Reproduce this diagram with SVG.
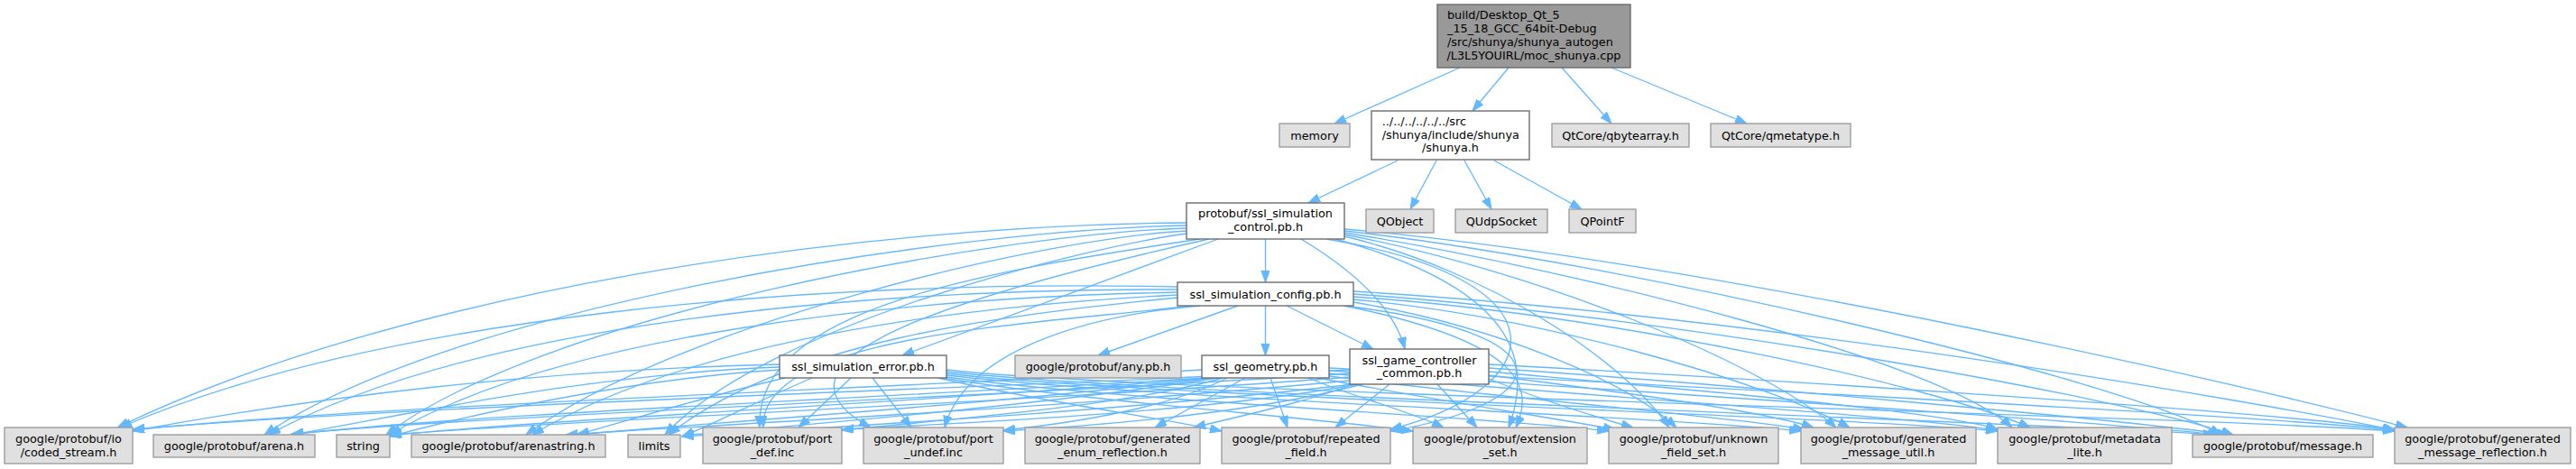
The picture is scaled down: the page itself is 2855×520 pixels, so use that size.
<svg xmlns="http://www.w3.org/2000/svg" width="2855" height="520" viewBox="0 0 2855 520">
<style>
.r{fill:#999999;stroke:#666666;stroke-width:1.33}
.n{fill:#ffffff;stroke:#666666;stroke-width:1.33}
.x{fill:#e0e0e0;stroke:#999999;stroke-width:1.33}
text{font-family:"DejaVu Sans","Liberation Sans",sans-serif;font-size:12.8px;fill:#000000}
.m{text-anchor:middle}
#edges path{fill:none;stroke:#63b8ff;stroke-width:1.33;marker-end:url(#ah)}
</style>
<defs>
<marker id="ah" markerUnits="userSpaceOnUse" markerWidth="14" markerHeight="10" refX="13" refY="4.7" orient="auto">
<path d="M0,0 L13,4.7 L0,9.4 z" fill="#63b8ff" stroke="#63b8ff" stroke-width="1"/>
</marker>
</defs>
<rect width="2855" height="520" fill="#ffffff"/>
<g id="edges">
<path d="M1618,75 L1479,137"/>
<path d="M1672,75 L1632,123"/>
<path d="M1731,75 L1786,137"/>
<path d="M1786,75 L1936,137"/>
<path d="M1549,178 L1450,225"/>
<path d="M1592,178 L1563,232"/>
<path d="M1623,178 L1653,232"/>
<path d="M1656,178 L1753,232"/>
<path d="M1402.5,265 L1402.5,313"/>
<path d="M1350,265 L1000,394"/>
<path d="M1442,265 C1500,300 1545,340 1557,387"/>
<path d="M1372,339 L1217,394"/>
<path d="M1402.5,339 L1402.5,394"/>
<path d="M1426,339 L1522,387"/>
<path d="M1315,247 C950,250 450,320 130,474"/>
<path d="M1315,250 C1050,255 500,340 293,482"/>
<path d="M1315,253 C1100,260 600,350 428,482"/>
<path d="M1315,256 C1150,265 750,360 583,482"/>
<path d="M1315,259 C1200,275 850,360 737,482"/>
<path d="M1330,265 C1100,300 835,340 842,474"/>
<path d="M1340,265 C1050,330 830,400 965,474"/>
<path d="M1470,265 C1740,310 1720,430 1541,476"/>
<path d="M1480,265 C1680,320 1700,400 1672,474"/>
<path d="M1490,262 C1650,300 1800,400 1850,474"/>
<path d="M1490,260 C1700,300 1950,400 2035,474"/>
<path d="M1490,258 C1750,300 2150,400 2230,474"/>
<path d="M1490,256 C1800,290 2350,420 2462,482"/>
<path d="M1490,254 C1900,290 2500,430 2668,474"/>
<path d="M1305,318 C900,310 420,350 133,474"/>
<path d="M1305,321 C950,320 520,360 298,482"/>
<path d="M1305,324 C1000,330 620,370 432,482"/>
<path d="M1305,327 C1050,340 760,380 590,482"/>
<path d="M1305,330 C1100,350 870,380 741,482"/>
<path d="M1320,339 C1150,360 840,370 846,474"/>
<path d="M1330,339 C1200,350 1070,390 1047,474"/>
<path d="M1490,339 C1740,370 1730,445 1541,478"/>
<path d="M1490,339 C1690,380 1700,430 1680,474"/>
<path d="M1500,335 C1650,360 1800,420 1858,474"/>
<path d="M1500,332 C1700,350 1950,420 2050,474"/>
<path d="M1500,329 C1800,350 2150,430 2250,474"/>
<path d="M1500,326 C1850,350 2350,440 2475,482"/>
<path d="M1500,323 C1950,350 2500,445 2654,477"/>
<path d="M864,404 C600,410 350,440 147,478"/>
<path d="M864,407 C650,415 450,460 323,482"/>
<path d="M864,410 C700,420 520,460 432,484"/>
<path d="M870,419 C780,440 700,465 640,482"/>
<path d="M900,419 C840,445 790,470 756,484"/>
<path d="M943,419 L885,474"/>
<path d="M967,419 L1010,474"/>
<path d="M1040,419 C1150,445 1280,462 1354,478"/>
<path d="M1045,419 C1200,445 1450,462 1566,478"/>
<path d="M1049,418 C1250,445 1650,462 1783,478"/>
<path d="M1049,416 C1250,440 1850,462 1996,478"/>
<path d="M1049,414 C1250,438 2050,462 2214,478"/>
<path d="M1049,412 C1250,436 2250,468 2455,482"/>
<path d="M1049,410 C1250,434 2450,462 2654,478"/>
<path d="M1332,410 C1000,430 400,450 147,477"/>
<path d="M1335,419 C1000,440 500,460 323,482"/>
<path d="M1340,419 C1050,445 600,465 432,483"/>
<path d="M1345,419 C1100,448 800,468 637,482"/>
<path d="M1350,419 C1150,450 900,470 756,483"/>
<path d="M1355,419 C1250,450 1050,465 933,477"/>
<path d="M1360,419 C1300,450 1200,468 1112,477"/>
<path d="M1380,419 L1280,474"/>
<path d="M1408,419 L1427,474"/>
<path d="M1450,419 C1500,440 1560,455 1600,474"/>
<path d="M1460,419 C1600,445 1700,460 1790,476"/>
<path d="M1473,417 C1650,440 1900,460 2000,476"/>
<path d="M1473,414 C1700,435 2100,460 2214,477"/>
<path d="M1473,411 C1750,430 2300,465 2460,482"/>
<path d="M1473,408 C1800,425 2500,460 2654,477"/>
<path d="M1496,410 C1100,430 450,450 147,476"/>
<path d="M1496,414 C1100,440 550,460 323,481"/>
<path d="M1496,418 C1150,445 650,465 432,482"/>
<path d="M1496,422 C1200,450 850,468 627,482"/>
<path d="M1500,426 C1250,455 950,472 756,484"/>
<path d="M1505,426 C1350,455 1100,468 933,476"/>
<path d="M1510,426 C1400,455 1250,470 1112,478"/>
<path d="M1500,426 C1450,445 1380,460 1323,474"/>
<path d="M1540,426 L1480,474"/>
<path d="M1593,426 L1637,474"/>
<path d="M1650,420 C1700,440 1760,460 1810,474"/>
<path d="M1650,416 C1800,435 1950,455 2010,474"/>
<path d="M1650,412 C1850,430 2150,455 2214,476"/>
<path d="M1650,408 C1900,425 2350,465 2470,482"/>
<path d="M1650,404 C1950,420 2500,455 2654,476"/>
</g>
<g id="root"><rect class="r" x="1593" y="5" width="214" height="70"/>
<text x="1604" y="21">build/Desktop_Qt_5</text><text x="1604" y="36">_15_18_GCC_64bit-Debug</text><text x="1604" y="51">/src/shunya/shunya_autogen</text><text class="m" x="1700" y="66">/L3L5YOUIRL/moc_shunya.cpp</text></g>
<g id="memory"><rect class="x" x="1418" y="137" width="78" height="26"/><text class="m" x="1457" y="154.5">memory</text></g>
<g id="shunya_h"><rect class="n" x="1520" y="123" width="175" height="54"/>
<text x="1531.7" y="139">../../../../../../src</text><text x="1531.7" y="153.5">/shunya/include/shunya</text><text class="m" x="1607.5" y="168">/shunya.h</text></g>
<g id="qbytearray"><rect class="x" x="1720" y="137" width="152" height="26"/><text class="m" x="1796" y="154.5">QtCore/qbytearray.h</text></g>
<g id="qmetatype"><rect class="x" x="1896" y="137" width="155" height="26"/><text class="m" x="1973.5" y="154.5">QtCore/qmetatype.h</text></g>
<g id="control"><rect class="n" x="1315" y="225" width="175" height="40"/>
<text class="m" x="1402.5" y="241">protobuf/ssl_simulation</text><text class="m" x="1402.5" y="255.5">_control.pb.h</text></g>
<g id="qobject"><rect class="x" x="1514" y="232" width="75" height="26"/><text class="m" x="1551.5" y="249.5">QObject</text></g>
<g id="qudpsocket"><rect class="x" x="1613" y="232" width="102" height="26"/><text class="m" x="1664" y="249.5">QUdpSocket</text></g>
<g id="qpointf"><rect class="x" x="1739" y="232" width="74" height="26"/><text class="m" x="1776" y="249.5">QPointF</text></g>
<g id="config"><rect class="n" x="1305" y="313" width="195" height="26"/><text class="m" x="1402.5" y="330.5">ssl_simulation_config.pb.h</text></g>
<g id="error"><rect class="n" x="864" y="394" width="185" height="25"/><text class="m" x="956.5" y="411">ssl_simulation_error.pb.h</text></g>
<g id="any"><rect class="x" x="1125" y="394" width="184" height="25"/><text class="m" x="1217" y="411">google/protobuf/any.pb.h</text></g>
<g id="geometry"><rect class="n" x="1332" y="394" width="141" height="25"/><text class="m" x="1402.5" y="411">ssl_geometry.pb.h</text></g>
<g id="gc_common"><rect class="n" x="1496" y="387" width="154" height="39"/>
<text class="m" x="1573" y="403.5">ssl_game_controller</text><text class="m" x="1573" y="417.5">_common.pb.h</text></g>
<g id="coded_stream"><rect class="x" x="5" y="474" width="142" height="40"/>
<text class="m" x="76" y="491">google/protobuf/io</text><text class="m" x="76" y="505.5">/coded_stream.h</text></g>
<g id="arena"><rect class="x" x="170" y="482" width="179" height="25"/><text class="m" x="259.5" y="499">google/protobuf/arena.h</text></g>
<g id="string"><rect class="x" x="373" y="482" width="59" height="25"/><text class="m" x="402.5" y="499">string</text></g>
<g id="arenastring"><rect class="x" x="456" y="482" width="215" height="25"/><text class="m" x="563.5" y="499">google/protobuf/arenastring.h</text></g>
<g id="limits"><rect class="x" x="696" y="482" width="58" height="25"/><text class="m" x="725" y="499">limits</text></g>
<g id="port_def"><rect class="x" x="779" y="474" width="154" height="40"/>
<text class="m" x="856" y="491">google/protobuf/port</text><text class="m" x="856" y="505.5">_def.inc</text></g>
<g id="port_undef"><rect class="x" x="957" y="474" width="155" height="40"/>
<text class="m" x="1034.5" y="491">google/protobuf/port</text><text class="m" x="1034.5" y="505.5">_undef.inc</text></g>
<g id="enum_reflection"><rect class="x" x="1136" y="474" width="194" height="40"/>
<text class="m" x="1233" y="491">google/protobuf/generated</text><text class="m" x="1233" y="505.5">_enum_reflection.h</text></g>
<g id="repeated_field"><rect class="x" x="1354" y="474" width="187" height="40"/>
<text class="m" x="1447.5" y="491">google/protobuf/repeated</text><text class="m" x="1447.5" y="505.5">_field.h</text></g>
<g id="extension_set"><rect class="x" x="1566" y="474" width="193" height="40"/>
<text class="m" x="1662.5" y="491">google/protobuf/extension</text><text class="m" x="1662.5" y="505.5">_set.h</text></g>
<g id="unknown_field_set"><rect class="x" x="1783" y="474" width="188" height="40"/>
<text class="m" x="1877" y="491">google/protobuf/unknown</text><text class="m" x="1877" y="505.5">_field_set.h</text></g>
<g id="message_util"><rect class="x" x="1996" y="474" width="194" height="40"/>
<text class="m" x="2093" y="491">google/protobuf/generated</text><text class="m" x="2093" y="505.5">_message_util.h</text></g>
<g id="metadata_lite"><rect class="x" x="2214" y="474" width="193" height="40"/>
<text class="m" x="2310.5" y="491">google/protobuf/metadata</text><text class="m" x="2310.5" y="505.5">_lite.h</text></g>
<g id="message"><rect class="x" x="2430" y="482" width="200" height="25"/><text class="m" x="2530" y="499">google/protobuf/message.h</text></g>
<g id="message_reflection"><rect class="x" x="2654" y="474" width="195" height="40"/>
<text class="m" x="2751.5" y="491">google/protobuf/generated</text><text class="m" x="2751.5" y="505.5">_message_reflection.h</text></g>
</svg>
